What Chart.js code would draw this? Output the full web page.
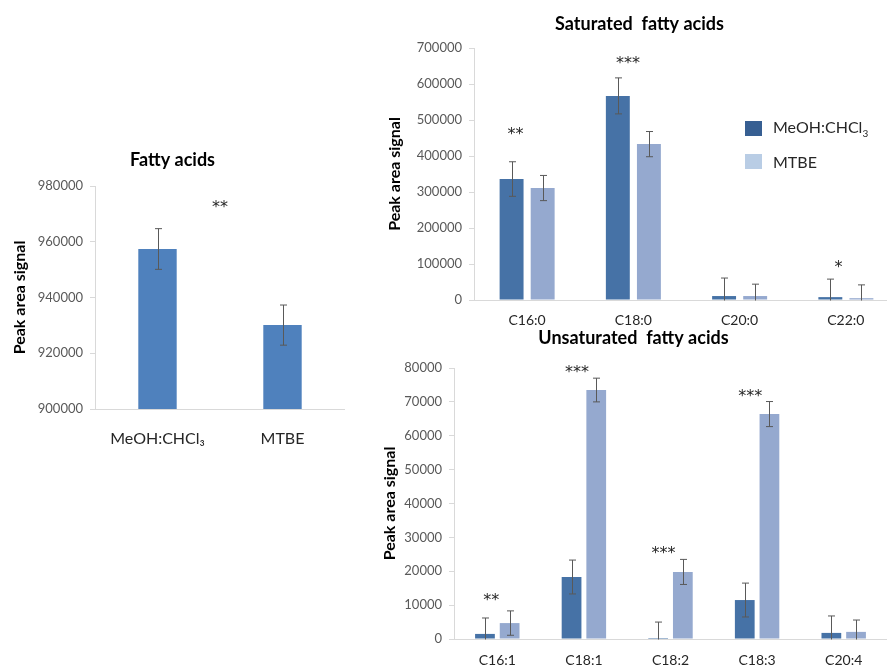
<!DOCTYPE html>
<html>
<head>
<meta charset="utf-8">
<script src="https://cdn.jsdelivr.net/npm/chart.js@4.4.1/dist/chart.umd.min.js"></script>
<style>
  html, body { margin: 0; padding: 0; background: #fff; overflow: hidden; }
  body { width: 887px; height: 667px; position: relative; font-family: Lato, "Open Sans", sans-serif; }
  .box { position: absolute; }
  #legend { position: absolute; left: 745px; top: 112px; font: 16px Lato, sans-serif; color: #262626; }
  #legend div { display: flex; align-items: center; height: 33px; }
  #legend span.sw { display: inline-block; width: 17px; height: 15px; margin-right: 11px; }
  #legend sub { font-size: 10px; }
</style>
</head>
<body>
<div class="box" style="left:0;top:140px;width:345px;height:315px"><canvas id="totalChart"></canvas></div>
<div class="box" style="left:380px;top:0;width:519px;height:335px"><canvas id="satChart"></canvas></div>
<div class="box" style="left:380px;top:310px;width:507px;height:357px"><canvas id="unsatChart"></canvas></div>
<div id="legend"></div>
<script>
// ---------- data ----------
const totalLabels = ["MeOH:CHCl\u2083", "MTBE"];
const totalValues = [957400, 930100];
const totalErrors = [7300, 7200];
const totalStars  = [{ x: 0.5, y: 972000, text: "**" }];

const satLabels = ["C16:0", "C18:0", "C20:0", "C22:0"];
const satMeoh   = [336000, 567000, 11000, 8000];
const satMeohErr = [48000, 50000, 50000, 50000];
const satMtbe   = [311000, 433000, 11000, 5000];
const satMtbeErr = [35000, 35000, 33000, 37000];
const satStars  = [
    { x: -0.11, y: 458000, text: "**" },
    { x: 0.95, y: 656000, text: "***" },
    { x: 2.93, y: 88000, text: "*" }
];

const unsatLabels = ["C16:1", "C18:1", "C18:2", "C18:3", "C20:4"];
const unsatMeoh   = [1500, 18300, 300, 11500, 1800];
const unsatMeohErr = [4700, 5000, 4700, 5000, 5000];
const unsatMtbe   = [4700, 73500, 19800, 66400, 2100];
const unsatMtbeErr = [3600, 3500, 3700, 3700, 3500];
const unsatStars  = [
    { x: -0.07, y: 11200, text: "**" },
    { x: 0.92, y: 78500, text: "***" },
    { x: 1.92, y: 25000, text: "***" },
    { x: 2.92, y: 71600, text: "***" }
];

const seriesNames = ["MeOH:CHCl3", "MTBE"];
const seriesColors = ["#4672A6", "#95A9CF"];
const legendColors = ["#375F92", "#B9CDE5"];

// ---------- plugins ----------
const errorBars = {
    id: "errorBars",
    afterDatasetsDraw(chart) {
        const { ctx, chartArea } = chart;
        const y = chart.scales.y;
        ctx.save();
        ctx.beginPath();
        ctx.rect(chartArea.left, chartArea.top, chartArea.right - chartArea.left, chartArea.bottom - chartArea.top + 0.5);
        ctx.clip();
        ctx.strokeStyle = "#595959";
        ctx.lineWidth = 1;
        chart.data.datasets.forEach((ds, di) => {
            chart.getDatasetMeta(di).data.forEach((bar, i) => {
                const v = ds.data[i], e = ds.errors[i];
                const x = Math.round(bar.x) + 0.5;
                const top = y.getPixelForValue(v + e);
                const bot = y.getPixelForValue(v - e);
                ctx.beginPath();
                ctx.moveTo(x, top); ctx.lineTo(x, bot);
                ctx.moveTo(x - 3.5, top); ctx.lineTo(x + 3.5, top);
                ctx.moveTo(x - 3.5, bot); ctx.lineTo(x + 3.5, bot);
                ctx.stroke();
            });
        });
        ctx.restore();
    }
};

const stars = {
    id: "stars",
    afterDraw(chart, args, opts) {
        const { ctx } = chart;
        ctx.save();
        ctx.fillStyle = "#262626";
        ctx.font = "16px 'DejaVu Sans', sans-serif";
        ctx.textAlign = "center";
        ctx.textBaseline = "middle";
        (opts.items || []).forEach(s => {
            ctx.fillText(s.text, chart.scales.x.getPixelForValue(s.x), chart.scales.y.getPixelForValue(s.y));
        });
        ctx.restore();
    }
};

// ---------- chart builder ----------
function makeChart(id, cfg) {
    return new Chart(document.getElementById(id), {
        type: "bar",
        data: { labels: cfg.labels, datasets: cfg.datasets },
        plugins: [errorBars, stars],
        options: {
            responsive: true,
            maintainAspectRatio: false,
            animation: false,
            layout: { padding: 0 },
            datasets: { bar: { categoryPercentage: cfg.catPct, barPercentage: cfg.barPct } },
            plugins: {
                legend: { display: false },
                tooltip: { enabled: false },
                stars: { items: cfg.stars },
                title: {
                    display: true,
                    text: cfg.title,
                    color: "#000",
                    font: { family: "Lato", size: 18, weight: "bold", lineHeight: 1.2 },
                    padding: cfg.titlePad
                }
            },
            scales: {
                x: {
                    grid: { display: false, drawTicks: false },
                    border: { color: "#D9D9D9" },
                    ticks: { color: "#262626", font: { family: "Lato", size: cfg.xFont }, padding: cfg.xPad, maxRotation: 0 },
                    afterFit: s => { s.height = cfg.xHeight; }
                },
                y: {
                    min: cfg.yMin, max: cfg.yMax,
                    grid: { drawOnChartArea: false, drawTicks: true, tickLength: 5, color: "#D9D9D9" },
                    border: { color: "#D9D9D9" },
                    ticks: {
                        stepSize: cfg.yStep, color: "#595959",
                        font: { family: "Lato", size: 13 }, padding: 7,
                        callback: v => String(v)
                    },
                    title: {
                        display: true, text: "Peak area signal", color: "#000",
                        font: { family: "Lato", size: 16, weight: "bold" },
                        padding: { top: cfg.yTitlePad, bottom: 0 }
                    },
                    afterFit: s => { s.width = cfg.yWidth; }
                }
            }
        }
    });
}

makeChart("totalChart", {
    labels: totalLabels,
    datasets: [{ label: "Total", data: totalValues, errors: totalErrors, backgroundColor: "#4F81BD" }],
    stars: totalStars,
    title: "Fatty acids",
    titlePad: { top: 9, bottom: 15.4 },
    catPct: 0.8, barPct: 0.384,
    yMin: 900000, yMax: 980000, yStep: 20000,
    yWidth: 95, yTitlePad: 10,
    xHeight: 46, xPad: 20, xFont: 16
});

makeChart("satChart", {
    labels: satLabels,
    datasets: [
        { label: seriesNames[0], data: satMeoh, errors: satMeohErr, backgroundColor: seriesColors[0] },
        { label: seriesNames[1], data: satMtbe, errors: satMtbeErr, backgroundColor: seriesColors[1] }
    ],
    stars: satStars,
    title: "Saturated  fatty acids",
    titlePad: { top: 13, bottom: 13.4 },
    catPct: 0.585, barPct: 0.77,
    yMin: 0, yMax: 700000, yStep: 100000,
    yWidth: 94, yTitlePad: 5,
    xHeight: 35, xPad: 12, xFont: 14
});

makeChart("unsatChart", {
    labels: unsatLabels,
    datasets: [
        { label: seriesNames[0], data: unsatMeoh, errors: unsatMeohErr, backgroundColor: seriesColors[0] },
        { label: seriesNames[1], data: unsatMtbe, errors: unsatMtbeErr, backgroundColor: seriesColors[1] }
    ],
    stars: unsatStars,
    title: "Unsaturated  fatty acids",
    titlePad: { top: 17, bottom: 19.4 },
    catPct: 0.57, barPct: 0.8,
    yMin: 0, yMax: 80000, yStep: 10000,
    yWidth: 74, yTitlePad: 0,
    xHeight: 28, xPad: 13, xFont: 14
});

// html legend for the saturated chart
const legend = document.getElementById("legend");
seriesNames.forEach((name, i) => {
    const row = document.createElement("div");
    const label = name.replace(/3$/, "<sub>3</sub>");
    row.innerHTML = `<span class="sw" style="background:${legendColors[i]}"></span><span>${label}</span>`;
    legend.appendChild(row);
});
</script>
</body>
</html>
